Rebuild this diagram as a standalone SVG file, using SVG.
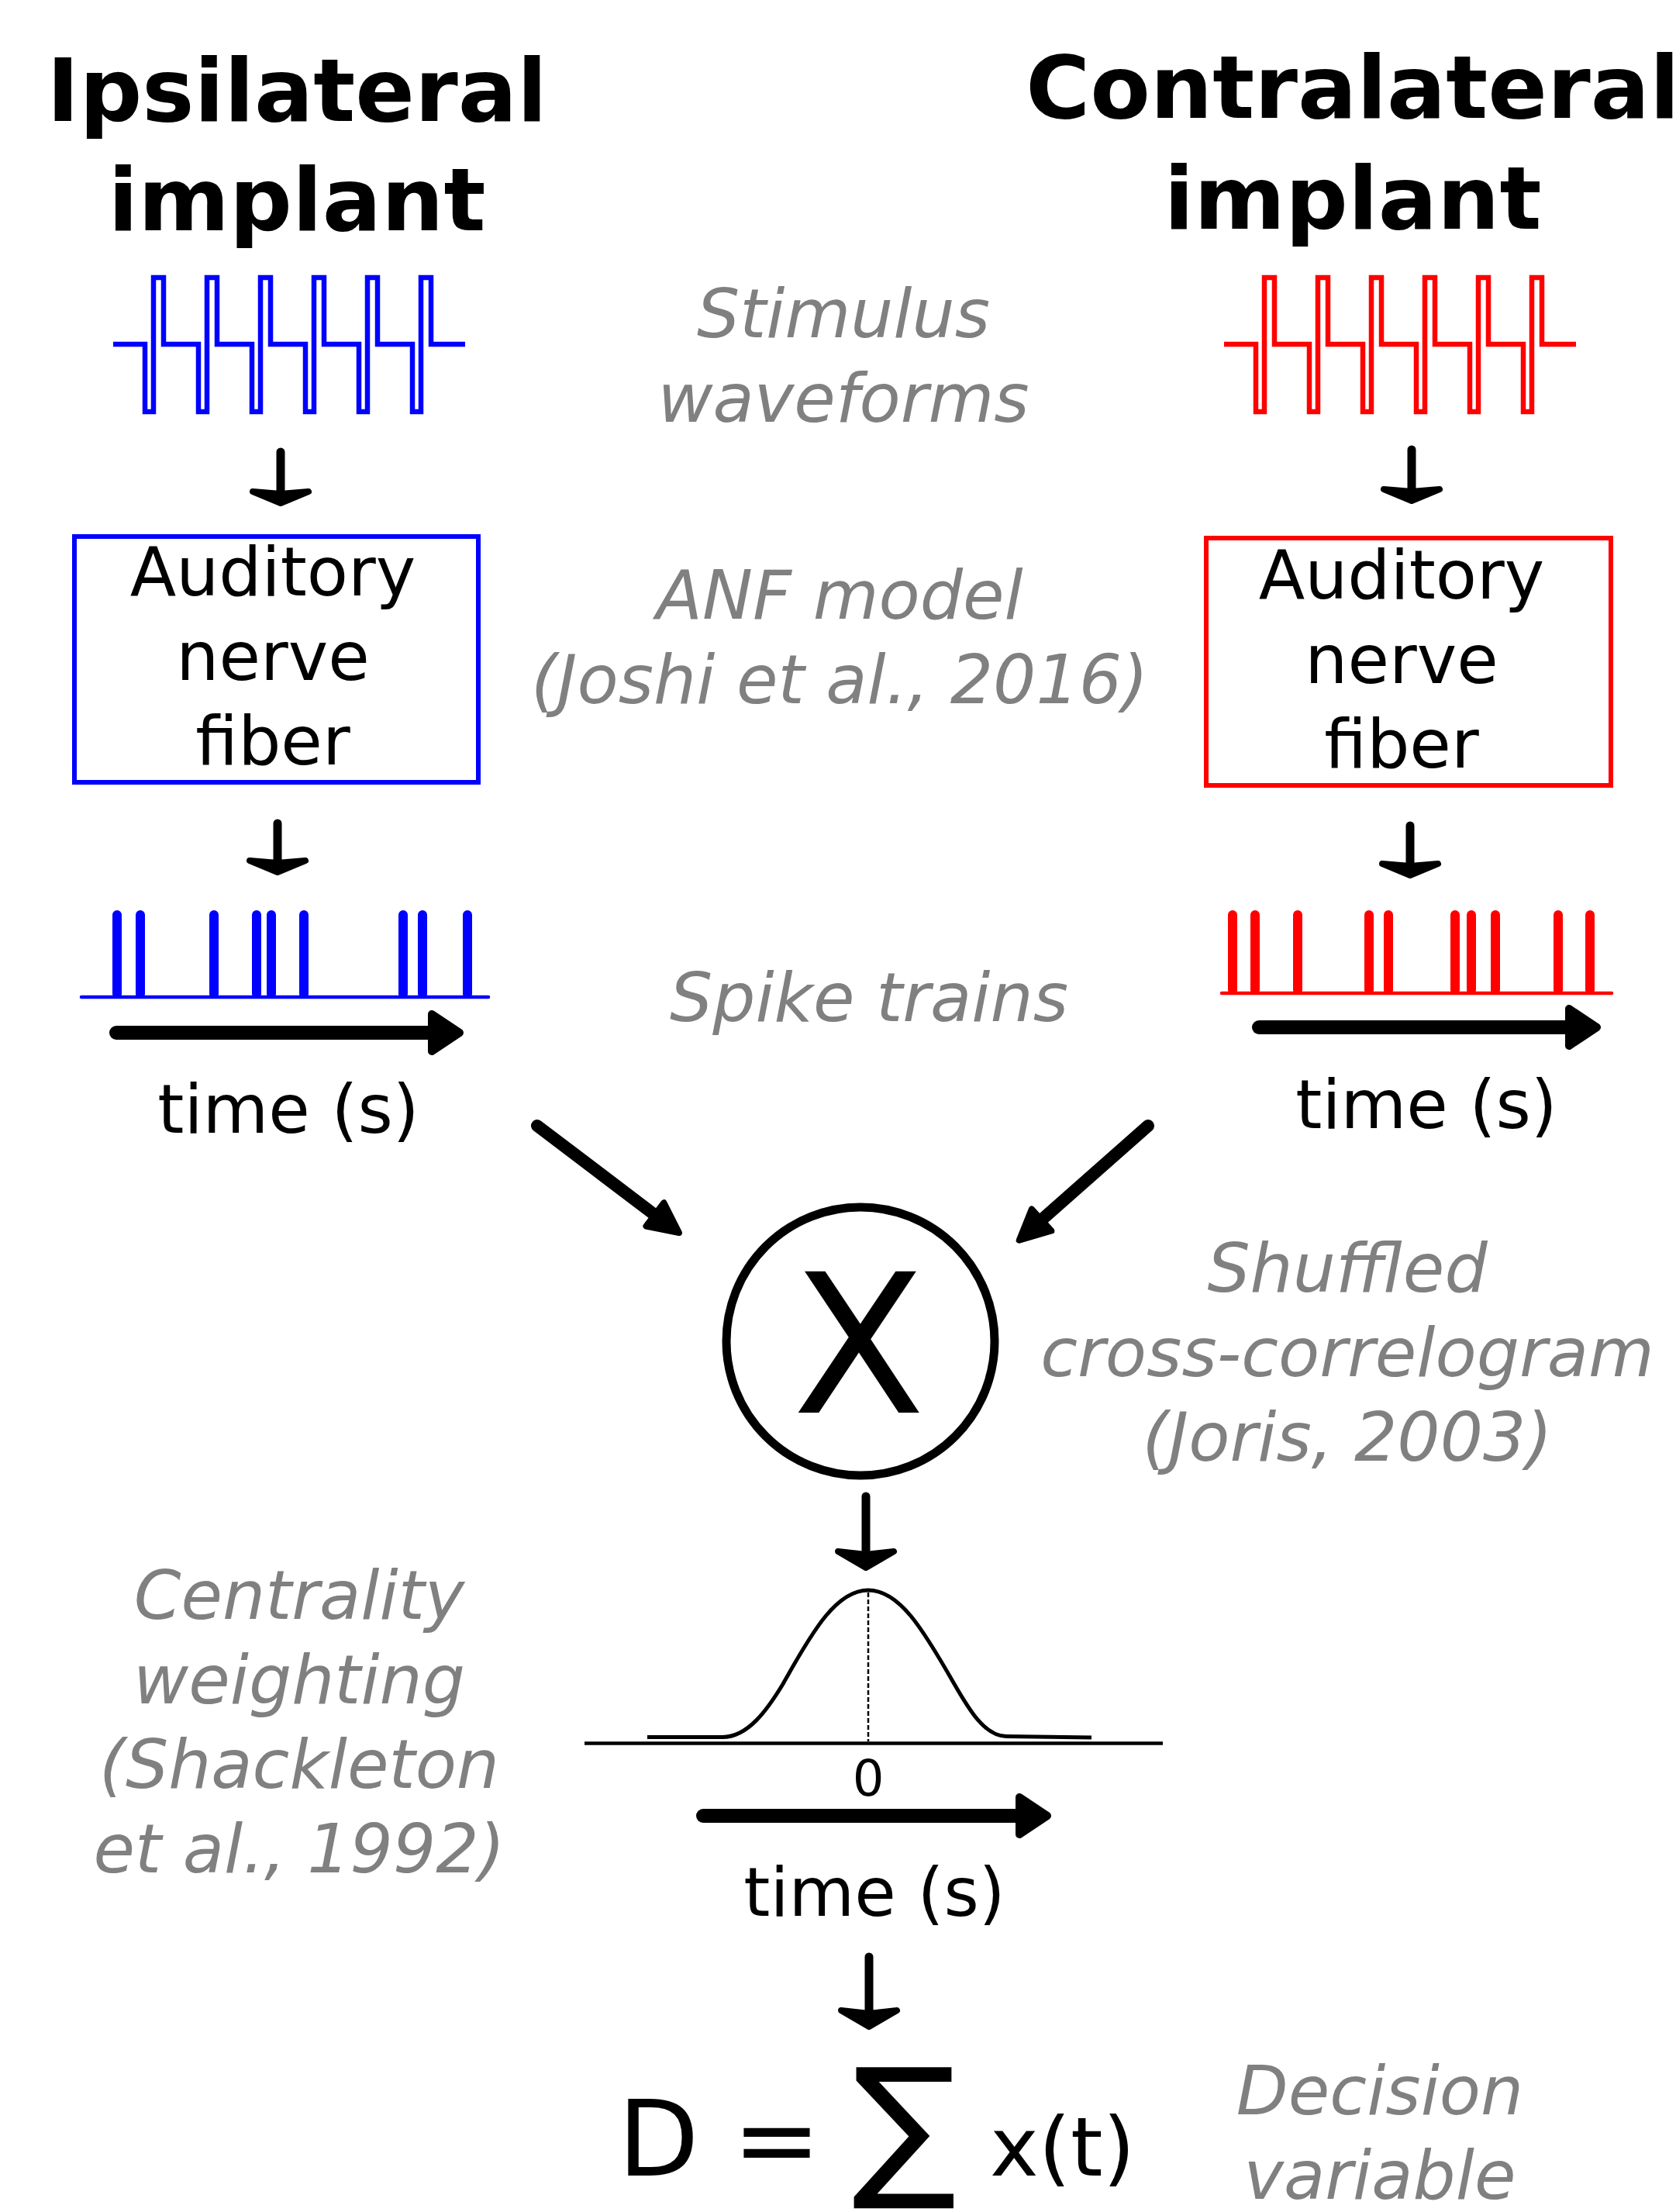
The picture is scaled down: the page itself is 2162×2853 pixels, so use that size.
<svg xmlns="http://www.w3.org/2000/svg" xmlns:xlink="http://www.w3.org/1999/xlink" width="2162" height="2853" viewBox="0 0 2162 2853">
  <style>
    .t { font-family: "DejaVu Sans", "Liberation Sans", sans-serif; text-anchor: middle; fill: #000; }
    .title { font-size: 113px; font-weight: bold; }
    .lbl { font-size: 87px; }
    .note { font-size: 87px; font-style: italic; fill: #808080; }
    .wave { fill: none; stroke-width: 6.5; stroke-linejoin: miter; }
    .spk { fill: none; stroke-width: 12; stroke-linecap: round; }
    .base { fill: none; stroke-width: 4.5; stroke-linecap: round; }
    .box { fill: none; stroke-width: 6; }
    .shaft { fill: none; stroke: #000; stroke-width: 11; stroke-linecap: round; }
    .fat { fill: none; stroke: #000; stroke-width: 18; stroke-linecap: round; }
    .diag { fill: none; stroke: #000; stroke-width: 16; stroke-linecap: round; }
    .head { fill: #000; stroke: #000; stroke-width: 8; stroke-linejoin: round; }
    .headT { fill: #000; stroke: #000; stroke-width: 10; stroke-linejoin: round; }
  </style>
  <defs>
    <!-- biphasic pulse train, six pulses -->
    <path id="pulses" d="M146,444 H187 V531 H198 V358 H211 V444 H256 V531 H267 V358 H280 V444 H325 V531 H336 V358 H349 V444 H394 V531 H405 V358 H418 V444 H463 V531 H474 V358 H487 V444 H532 V531 H543 V358 H556 V444 H600"/>
    <!-- flat arrowheads, tip at origin, pointing down -->
    <path id="hdShort" d="M0,-4 L36,-19 L0,-16 L-36,-19 Z"/>
    <path id="hdLong" d="M0,-4 L36,-25 L0,-21 L-36,-25 Z"/>
    <!-- triangular heads, tip at origin, pointing right -->
    <path id="hdTime" d="M-5,0 L-41,-24 L-41,24 Z"/>
    <path id="hdDiag" d="M-5,0 L-44,-19 L-44,19 Z"/>
  </defs>

  <rect width="2162" height="2853" fill="#fff"/>

  <!-- column headings -->
  <g id="ipsi-title">
    <text class="t title" x="383" y="156">Ipsilateral</text>
    <text class="t title" x="383" y="297">implant</text>
  </g>
  <g id="contra-title">
    <text class="t title" x="1745" y="152">Contralateral</text>
    <text class="t title" x="1745" y="295">implant</text>
  </g>

  <!-- stimulus waveforms -->
  <g id="ipsi-stimulus">
    <use xlink:href="#pulses" href="#pulses" class="wave" stroke="#0000ff"/>
  </g>
  <g id="contra-stimulus">
    <use xlink:href="#pulses" href="#pulses" class="wave" stroke="#ff0000" transform="translate(1433,0)"/>
  </g>

  <!-- auditory nerve fiber models -->
  <g id="ipsi-anf">
    <rect class="box" stroke="#0000ff" x="96" y="692" width="521" height="317"/>
    <text class="t lbl" x="352" y="768">Auditory</text>
    <text class="t lbl" x="352" y="877">nerve</text>
    <text class="t lbl" x="352" y="986">fiber</text>
  </g>
  <g id="contra-anf">
    <rect class="box" stroke="#ff0000" x="1556" y="694" width="522" height="319"/>
    <text class="t lbl" x="1808" y="772">Auditory</text>
    <text class="t lbl" x="1808" y="881">nerve</text>
    <text class="t lbl" x="1808" y="990">fiber</text>
  </g>

  <!-- spike trains -->
  <g id="ipsi-spikes">
    <path class="spk" stroke="#0000ff" d="M151,1180 V1282 M181,1180 V1282 M276,1180 V1282 M331,1180 V1282 M350,1180 V1282 M392,1180 V1282 M520,1180 V1282 M545,1180 V1282 M603,1180 V1282"/>
    <path class="base" stroke="#0000ff" d="M105,1286 H630"/>
    <path class="fat" d="M150,1332 H560"/>
    <use xlink:href="#hdTime" href="#hdTime" class="headT" transform="translate(598,1332)"/>
    <text class="t lbl" x="372" y="1461">time (s)</text>
  </g>
  <g id="contra-spikes">
    <path class="spk" stroke="#ff0000" d="M1590,1180 V1277 M1619,1180 V1277 M1674,1180 V1277 M1766,1180 V1277 M1791,1180 V1277 M1877,1180 V1277 M1898,1180 V1277 M1929,1180 V1277 M2010,1180 V1277 M2051,1180 V1277"/>
    <path class="base" stroke="#ff0000" d="M1576,1281 H2079"/>
    <path class="fat" d="M1624,1325 H2030"/>
    <use xlink:href="#hdTime" href="#hdTime" class="headT" transform="translate(2065,1325)"/>
    <text class="t lbl" x="1840" y="1455">time (s)</text>
  </g>

  <!-- cross-correlation operator -->
  <g id="correlator">
    <circle cx="1110" cy="1730" r="173" fill="none" stroke="#000" stroke-width="11"/>
    <text class="t" style="font-size:250px" x="1108" y="1822">X</text>
  </g>

  <!-- centrality weighting function -->
  <g id="weighting">
    <path d="M754,2248.5 H1500" fill="none" stroke="#000" stroke-width="4.5"/>
    <path d="M835,2240.5 H932 C965,2240.5 990,2205 1010,2172 C1050,2100 1080,2051 1120,2051 C1160,2051 1190,2100 1231,2172 C1250,2205 1270,2239 1298,2239.5 L1408,2241" fill="none" stroke="#000" stroke-width="5"/>
    <path d="M1120,2054 V2246" fill="none" stroke="#000" stroke-width="2.5" stroke-dasharray="6 3"/>
    <text class="t" style="font-size:64px" x="1120" y="2316">0</text>
    <path class="fat" d="M907,2342 H1315"/>
    <use xlink:href="#hdTime" href="#hdTime" class="headT" transform="translate(1356,2342)"/>
    <text class="t lbl" x="1128" y="2471">time (s)</text>
  </g>

  <!-- decision variable -->
  <g id="decision">
    <text class="t" style="font-size:136px;text-anchor:start" x="797" y="2806">D =</text>
    <text class="t" style="font-size:200px;text-anchor:start" x="1099" y="2810">∑</text>
    <text class="t" style="font-size:106px;text-anchor:start" x="1277" y="2806">x(t)</text>
  </g>

  <!-- stage annotations -->
  <g id="notes">
    <text class="t note" x="1088" y="435">Stimulus</text>
    <text class="t note" x="1088" y="544">waveforms</text>
    <text class="t note" x="1083" y="798">ANF model</text>
    <text class="t note" x="1083" y="907">(Joshi et al., 2016)</text>
    <text class="t note" x="1121" y="1317">Spike trains</text>
    <text class="t note" x="1738" y="1666">Shuffled</text>
    <text class="t note" x="1738" y="1775">cross-correlogram</text>
    <text class="t note" x="1738" y="1884">(Joris, 2003)</text>
    <text class="t note" x="386" y="2088">Centrality</text>
    <text class="t note" x="386" y="2197">weighting</text>
    <text class="t note" x="386" y="2306">(Shackleton</text>
    <text class="t note" x="386" y="2415">et al., 1992)</text>
    <text class="t note" x="1780" y="2727">Decision</text>
    <text class="t note" x="1780" y="2836">variable</text>
  </g>

  <!-- connectors -->
  <g id="connectors">
    <path class="shaft" d="M362,583 V638"/>
    <use xlink:href="#hdShort" href="#hdShort" class="head" transform="translate(362,653)"/>
    <path class="shaft" d="M358,1062 V1114"/>
    <use xlink:href="#hdShort" href="#hdShort" class="head" transform="translate(358,1129)"/>
    <path class="shaft" d="M1821,580 V635"/>
    <use xlink:href="#hdShort" href="#hdShort" class="head" transform="translate(1821,650)"/>
    <path class="shaft" d="M1819,1065 V1118"/>
    <use xlink:href="#hdShort" href="#hdShort" class="head" transform="translate(1819,1133)"/>

    <path class="diag" d="M693,1452 L846,1568"/>
    <use xlink:href="#hdDiag" href="#hdDiag" class="head" transform="translate(880,1593) rotate(37.2)"/>
    <path class="diag" d="M1481,1452 L1344,1573"/>
    <use xlink:href="#hdDiag" href="#hdDiag" class="head" transform="translate(1311,1603) rotate(137.8)"/>

    <path class="shaft" d="M1117,1930 V2006"/>
    <use xlink:href="#hdLong" href="#hdLong" class="head" transform="translate(1117,2026)"/>
    <path class="shaft" d="M1121,2524 V2598"/>
    <use xlink:href="#hdLong" href="#hdLong" class="head" transform="translate(1121,2618)"/>
  </g>
</svg>
